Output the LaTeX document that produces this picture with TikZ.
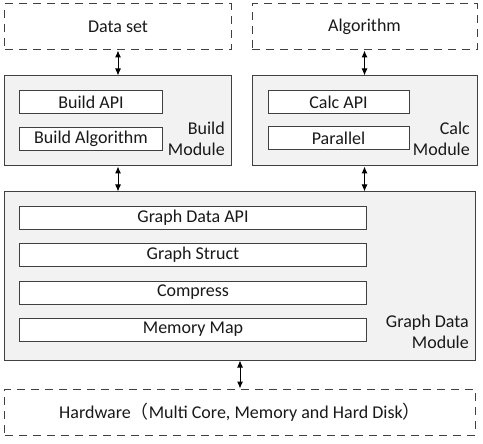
\documentclass[tikz,border=0pt]{standalone}
\usepackage{fontspec}
\setmainfont{Carlito}
\newfontfamily\cjkfont{Noto Sans CJK SC}
\usetikzlibrary{arrows.meta}
\definecolor{modfill}{HTML}{F2F2F2}
\definecolor{edge}{HTML}{404040}
\begin{document}
\begin{tikzpicture}[x=1bp,y=-1bp,
  every node/.style={font=\fontsize{18bp}{21.5bp}\selectfont, text=black!90},
  extbox/.style={draw=edge, line width=1bp, dash pattern=on 8bp off 6bp, inner sep=0pt},
  modbox/.style={draw=edge, fill=modfill, line width=1bp, inner sep=0pt},
  subbox/.style={draw=edge, fill=white, line width=1bp, inner sep=0pt, minimum height=23bp},
  modlabel/.style={anchor=east, align=right, inner sep=0pt},
  biarrow/.style={{Latex[length=7bp,width=6bp]}-{Latex[length=7bp,width=6bp]}, line width=1bp, black}
]
\useasboundingbox (0,0) rectangle (483,444);
% external boxes
\node[extbox, minimum width=226bp, minimum height=46bp] (data) at (118,27) {Data set};
\node[extbox, minimum width=225bp, minimum height=46bp] (algo) at (364.5,27) {Algorithm};
\node[extbox, minimum width=470bp, minimum height=46bp] (hw) at (240,412) {Hardware{\cjkfont（}Multi Core, Memory and Hard Disk{\cjkfont）}};
% modules
\node[modbox, minimum width=226bp, minimum height=90bp] (build) at (118,121) {};
\node[modbox, minimum width=225bp, minimum height=90bp] (calc) at (364.5,121) {};
\node[modbox, minimum width=470bp, minimum height=168bp] (graph) at (240,276) {};
% sub boxes
\node[subbox, minimum width=142bp] (bapi) at (91,102.5) {Build API};
\node[subbox, minimum width=142bp] (balg) at (91,139) {Build Algorithm};
\node[subbox, minimum width=141bp] (capi) at (338.5,102.5) {Calc API};
\node[subbox, minimum width=141bp] (par) at (338.5,138.5) {Parallel};
\node[subbox, minimum width=346bp, minimum height=22bp] (gapi) at (193,218) {Graph Data API};
\node[subbox, minimum width=346bp] (gstr) at (193,254.5) {Graph Struct};
\node[subbox, minimum width=346bp] (comp) at (193,292.5) {Compress};
\node[subbox, minimum width=346bp] (mmap) at (193,329.5) {Memory Map};
% module labels
\node[modlabel] (bl) at (225,139) {Build\\Module};
\node[modlabel] (cl) at (470,139) {Calc\\Module};
\node[modlabel] (gl) at (469,332) {Graph Data\\Module};
% arrows
\draw[biarrow] (data.south) -- (build.north);
\draw[biarrow] (algo.south) -- (calc.north);
\draw[biarrow] (build.south) -- (build.south |- graph.north);
\draw[biarrow] (calc.south) -- (calc.south |- graph.north);
\draw[biarrow] (graph.south) -- (hw.north);
\end{tikzpicture}
\end{document}
